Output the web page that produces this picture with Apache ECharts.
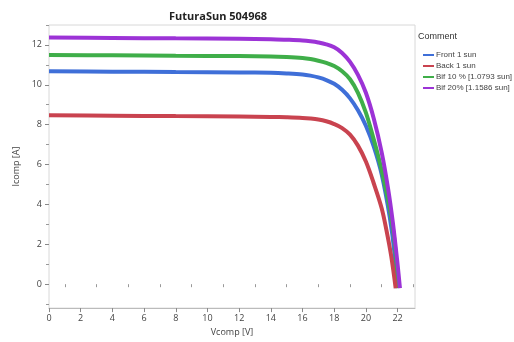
<!DOCTYPE html>
<html>
<head>
<meta charset="utf-8">
<script src="https://cdn.jsdelivr.net/npm/echarts@6/dist/echarts.min.js"></script>
<style>
  html, body { margin: 0; padding: 0; background: #fff; }
  #chart { width: 514px; height: 342px; }
</style>
</head>
<body>
<div id="chart"></div>
<script>
// values
const frontV = [0, 4, 8, 12, 14, 15, 16, 16.5, 17, 17.5, 18, 18.5, 19, 19.5, 20, 20.5, 21, 21.5, 21.8, 21.95];
const frontI = [10.68, 10.66, 10.64, 10.62, 10.6, 10.57, 10.52, 10.46, 10.37, 10.24, 10.05, 9.75, 9.32, 8.72, 7.95, 6.9, 5.5, 3.4, 1.6, -0.2];

const backV = [0, 4, 8, 12, 14, 15, 16, 16.5, 17, 17.5, 18, 18.5, 19, 19.5, 20, 20.5, 21, 21.3, 21.6, 21.88];
const backI = [8.47, 8.45, 8.43, 8.41, 8.39, 8.37, 8.34, 8.31, 8.26, 8.17, 8.03, 7.83, 7.5, 6.95, 6.15, 5.05, 3.8, 2.7, 1.4, -0.2];

const bif10V = [0, 4, 8, 12, 14, 15, 16, 16.5, 17, 17.5, 18, 18.5, 19, 19.5, 20, 20.5, 21, 21.5, 21.8, 22.05];
const bif10I = [11.5, 11.48, 11.46, 11.44, 11.42, 11.39, 11.34, 11.29, 11.21, 11.1, 10.94, 10.68, 10.28, 9.6, 8.6, 7.25, 5.7, 3.8, 2.2, -0.2];

const bif20V = [0, 4, 8, 12, 14, 15, 16, 16.5, 17, 17.5, 18, 18.5, 19, 19.5, 20, 20.5, 21, 21.4, 21.7, 22, 22.15];
const bif20I = [12.37, 12.35, 12.33, 12.31, 12.29, 12.26, 12.22, 12.18, 12.12, 12.03, 11.88, 11.6, 11.15, 10.5, 9.6, 8.3, 6.6, 4.8, 3.1, 1.0, -0.2];

const xTicks = [0, 2, 4, 6, 8, 10, 12, 14, 16, 18, 20, 22];
const xMinor = [1, 3, 5, 7, 9, 11, 13, 15, 17, 19, 21, 23];
const yTicks = [0, 2, 4, 6, 8, 10, 12];
const yMinor = [-1, 1, 3, 5, 7, 9, 11, 13];

const names = ['Front 1 sun', 'Back 1 sun', 'Bif 10 % [1.0793 sun]', 'Bif 20% [1.1586 sun]'];
const colors = ['#3f6fd8', '#c9434f', '#3fae49', '#9c33d6'];

function pairs(xs, ys) {
  return xs.map((x, i) => [x, ys[i]]);
}

const chart = echarts.init(document.getElementById('chart'));
const FONT = '"Open Sans", "Noto Sans", sans-serif';
const NARROW = '"Liberation Sans", Arial, sans-serif';
const grid = { left: 49, right: 99, top: 25, bottom: 30 };

const curves = [pairs(frontV, frontI), pairs(backV, backI), pairs(bif10V, bif10I), pairs(bif20V, bif20I)];

chart.setOption({
  backgroundColor: '#fff',
  animation: false,
  textStyle: { fontFamily: FONT },
  title: {
    text: 'FuturaSun 504968',
    left: 213, top: 6, textAlign: 'center',
    textStyle: { fontSize: 11, fontWeight: 'bold', color: '#222', fontFamily: FONT }
  },
  graphic: [{
    type: 'text', left: 418, top: 32,
    style: { text: 'Comment', fontSize: 9, fill: '#333', fontFamily: NARROW }
  }],
  legend: {
    orient: 'vertical', left: 418, top: 46,
    itemWidth: 11, itemHeight: 2, itemGap: 3,
    icon: 'rect',
    textStyle: { fontSize: 8, color: '#444', fontFamily: NARROW, padding: [0, 0, 0, -3] },
    data: names
  },
  grid: Object.assign({ show: true, borderColor: '#d8d8d8', borderWidth: 1 }, grid),
  xAxis: [{
    type: 'value', min: 0, max: 23.1,
    name: 'Vcomp [V]', nameLocation: 'middle', nameGap: 18,
    nameTextStyle: { fontSize: 9, color: '#444' },
    axisLine: { show: true, onZero: false, lineStyle: { color: '#bbb' } },
    axisTick: { show: true, customValues: xTicks, length: 4, lineStyle: { color: '#888' } },
    axisLabel: { customValues: xTicks, fontSize: 9, color: '#444', margin: 6 },
    splitLine: { show: false }
  }, {
    type: 'value', min: 0, max: 23.1, position: 'bottom',
    axisLine: { show: false },
    axisTick: { show: true, customValues: xMinor, length: 3, lineStyle: { color: '#999' } },
    axisLabel: { show: false },
    splitLine: { show: false }
  }],
  yAxis: [{
    type: 'value', min: -1.2, max: 13,
    name: 'Icomp [A]', nameLocation: 'middle', nameGap: 26,
    nameTextStyle: { fontSize: 9, color: '#444' },
    axisLine: { show: false },
    axisTick: { show: true, customValues: yTicks, length: 4, lineStyle: { color: '#888' } },
    axisLabel: { customValues: yTicks, fontSize: 9, color: '#444', margin: 7 },
    splitLine: { show: false }
  }, {
    type: 'value', min: -1.2, max: 13, position: 'left',
    axisLine: { show: false },
    axisTick: { show: true, customValues: yMinor, length: 3, lineStyle: { color: '#999' } },
    axisLabel: { show: false },
    splitLine: { show: false }
  }],
  series: curves.map((d, i) => ({
    name: names[i],
    type: 'line',
    data: d,
    smooth: 0.35,
    showSymbol: false,
    color: colors[i],
    lineStyle: { width: 4, color: colors[i] },
    z: i === 1 ? 5 : 2 + i
  }))
});
</script>
</body>
</html>
